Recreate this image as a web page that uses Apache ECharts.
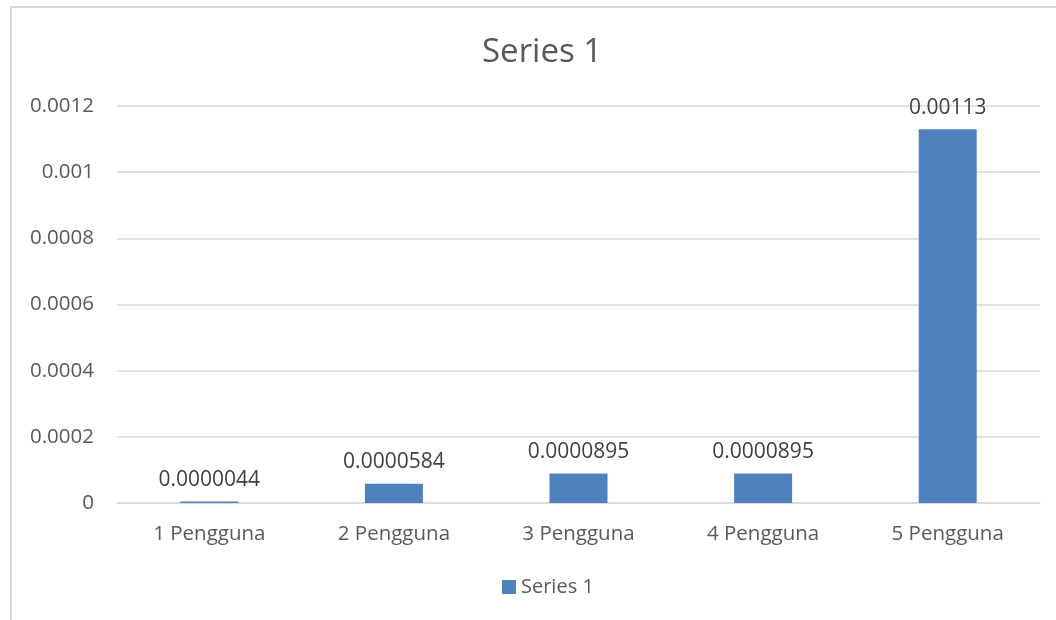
<!DOCTYPE html>
<html>
<head>
<meta charset="utf-8">
<script src="https://cdn.jsdelivr.net/npm/echarts@6/dist/echarts.min.js"></script>
<style>
  html, body { margin: 0; padding: 0; background: #fff; }
  #chart { width: 1056px; height: 620px; }
</style>
</head>
<body>
<div id="chart"></div>
<script>
var categories = ['1 Pengguna', '2 Pengguna', '3 Pengguna', '4 Pengguna', '5 Pengguna'];
var values = [0.0000044, 0.0000584, 0.0000895, 0.0000895, 0.00113];
var seriesName = 'Series 1';

var font = '"Open Sans", Lato, sans-serif';
var chart = echarts.init(document.getElementById('chart'));
var option = {
    backgroundColor: '#fff',
    animation: false,
    title: {
        text: seriesName,
        left: 477,
        top: 31,
        textStyle: { fontFamily: font, fontSize: 33, fontWeight: 'normal', color: '#595959' }
    },
    legend: {
        bottom: 18,
        left: 497,
        itemWidth: 14,
        itemHeight: 14,
        itemGap: 6,
        icon: 'rect',
        textStyle: { fontFamily: font, fontSize: 20, color: '#595959' },
        data: [seriesName]
    },
    grid: { left: 117, right: 16, top: 106, bottom: 117, containLabel: false },
    xAxis: {
        type: 'category',
        data: categories,
        axisTick: { show: false },
        axisLine: { lineStyle: { color: '#d9d9d9', width: 1.5 } },
        axisLabel: { fontFamily: font, fontSize: 20.5, color: '#595959', margin: 21 }
    },
    yAxis: {
        type: 'value',
        min: 0,
        max: 0.0012,
        interval: 0.0002,
        axisLine: { show: false },
        axisTick: { show: false },
        splitLine: { lineStyle: { color: '#d9d9d9', width: 1.5 } },
        axisLabel: {
            fontFamily: font, fontSize: 20.5, color: '#595959', margin: 23,
            formatter: function (v) { return String(+v.toFixed(4)); }
        }
    },
    series: [{
        name: seriesName,
        type: 'bar',
        barWidth: 58,
        data: values,
        itemStyle: { color: '#4f81bd' },
        label: {
            show: true,
            position: 'top',
            distance: 11,
            fontFamily: font,
            fontSize: 21,
            color: '#404040',
            formatter: function (p) { return String(p.value); }
        }
    }],
    graphic: [{
        type: 'rect',
        shape: { x: 11, y: 7, width: 1060, height: 640 },
        style: { fill: 'none', stroke: '#d9d9d9', lineWidth: 2 },
        silent: true
    }]
};
chart.setOption(option);
</script>
</body>
</html>
